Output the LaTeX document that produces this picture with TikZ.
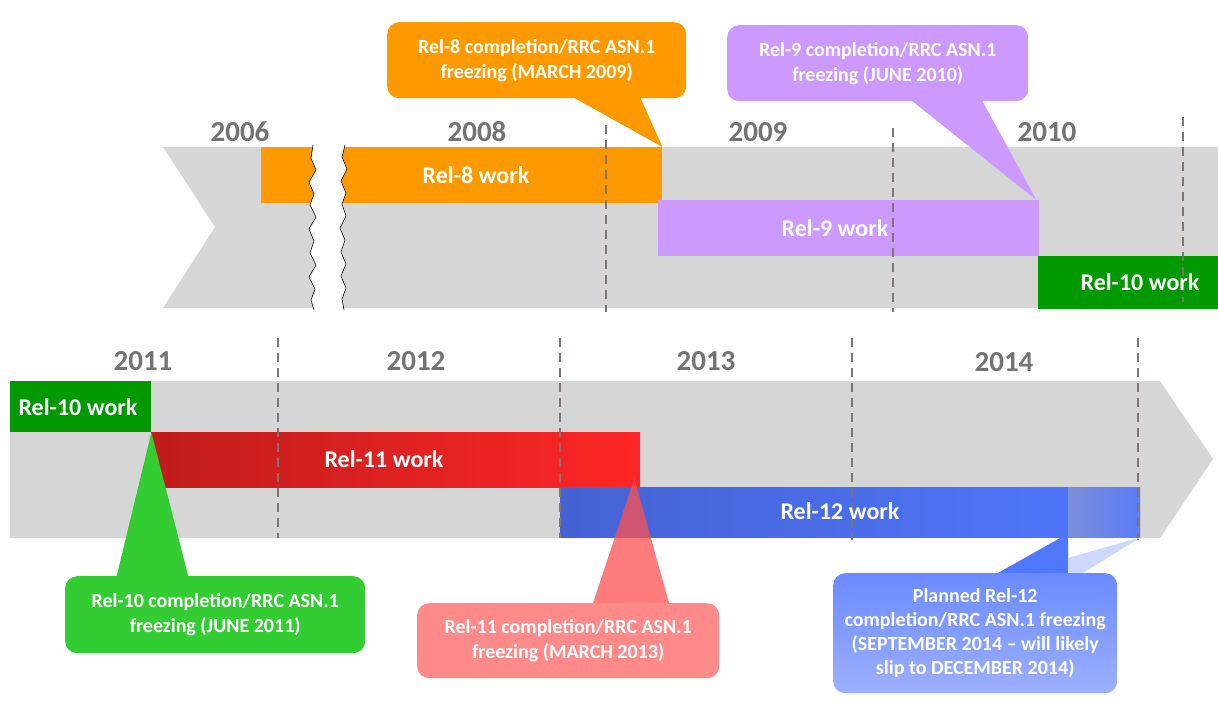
\documentclass[tikz,border=0pt]{standalone}
\usepackage{fontspec}
\setmainfont{Carlito}
\usetikzlibrary{calc}

\definecolor{band}{HTML}{D6D6D6}
\definecolor{yeargray}{HTML}{737373}
\definecolor{dashgray}{HTML}{7E7570}
\definecolor{orangeR}{HTML}{FF9900}
\definecolor{lilac}{HTML}{CC99FF}
\definecolor{greenR}{HTML}{009900}
\definecolor{greenC}{HTML}{33CC33}
\definecolor{redL}{HTML}{BF1C1C}
\definecolor{redR}{HTML}{FF2626}
\definecolor{blueL}{HTML}{4462D2}
\definecolor{blueR}{HTML}{5078FF}
\definecolor{blueSL}{HTML}{7A8ED8}
\definecolor{blueSR}{HTML}{5A7CF8}
\definecolor{redC}{HTML}{FF8A8A}
\definecolor{redP}{HTML}{FF5050}
\definecolor{blueCT}{HTML}{6A8AFF}
\definecolor{blueCB}{HTML}{9DB0FF}
\definecolor{bluePale}{HTML}{CDD8FF}

\tikzset{
  bar/.style={rectangle, inner sep=0pt, anchor=north west},
  barlabel/.style={text=white, font=\bfseries\fontsize{24}{24}\selectfont, inner sep=0pt},
  year/.style={text=yeargray, font=\bfseries\fontsize{29}{29}\selectfont, inner sep=0pt},
  callout/.style={rectangle, rounded corners=12pt, text=white, align=center,
    font=\bfseries\fontsize{20}{25}\selectfont, inner sep=0pt, anchor=north west},
  guide/.style={dashgray, line width=2pt, dash pattern=on 9pt off 6pt},
  tear/.style={black, line width=0.6pt, line join=miter}
}

\begin{document}
\begin{tikzpicture}[x=1pt, y=-1pt]
\useasboundingbox (0,0) rectangle (1218,716);

% timeline bands
\fill[band] (163,147) -- (1218,147) -- (1218,308) -- (163,308) -- (215,227) -- cycle;
\fill[band] (10,381) -- (1160,381) -- (1213,459) -- (1160,538) -- (10,538) -- cycle;

% release work bars, 2006-2010
\node[bar, fill=orangeR, minimum width=401pt, minimum height=56pt] (r8) at (261,147) {};
\node[bar, fill=lilac, minimum width=381pt, minimum height=56pt] (r9) at (658,200) {};
\node[bar, fill=greenR, minimum width=180pt, minimum height=53pt] (r10a) at (1038,256) {};

% release work bars, 2011-2014
\node[bar, fill=greenR, minimum width=141pt, minimum height=51pt] (r10b) at (10,381) {};
\node[bar, left color=redL, right color=redR, minimum width=489pt, minimum height=55pt] (r11) at (151,432) {};
\node[bar, left color=blueL, right color=blueR, minimum width=580pt, minimum height=50pt] (r12) at (560,487) {};
\node[bar, left color=blueSL, right color=blueSR, minimum width=72pt, minimum height=50pt] (r12s) at (1068,487) {};

% year separators
\draw[guide] (606,125) -- (606,312);
\draw[guide] (893,128) -- (893,312);
\draw[guide] (1183,117) -- (1183,302);
\draw[guide] (278,338) -- (278,538);
\draw[guide] (560,338) -- (560,538);
\draw[guide] (852,338) -- (852,540);
\draw[guide] (1138,338) -- (1138,540);

% torn gap between 2006 and 2008
\fill[white] (313,145) -- (311,158) -- (316,170) -- (309,182) -- (314,194) -- (310,205) -- (316,217)
  -- (309,229) -- (314,241) -- (310,253) -- (316,265) -- (309,277) -- (315,289) -- (311,300) -- (314,310)
  -- (344,310) -- (342,299) -- (346,288) -- (341,276) -- (346,264) -- (341,252) -- (345,240) -- (340,228)
  -- (346,216) -- (342,204) -- (346,193) -- (341,181) -- (347,169) -- (342,157) -- (345,145) -- cycle;
\draw[tear] (313,145) -- (311,158) -- (316,170) -- (309,182) -- (314,194) -- (310,205) -- (316,217)
  -- (309,229) -- (314,241) -- (310,253) -- (316,265) -- (309,277) -- (315,289) -- (311,300) -- (314,310);
\draw[tear] (345,145) -- (342,157) -- (347,169) -- (341,181) -- (346,193) -- (342,204) -- (346,216)
  -- (340,228) -- (345,240) -- (341,252) -- (346,264) -- (341,276) -- (346,288) -- (342,299) -- (344,310);

% bar labels
\node[barlabel] (l8) at (476,175) {Rel-8 work};
\node[barlabel] (l9) at (835,228) {Rel-9 work};
\node[barlabel] (l10a) at (1140,282) {Rel-10 work};
\node[barlabel] (l10b) at (78,407) {Rel-10 work};
\node[barlabel] (l11) at (384,459) {Rel-11 work};
\node[barlabel] (l12) at (840,511) {Rel-12 work};

% years
\node[year] (y06) at (240,132) {2006};
\node[year] (y08) at (477,132) {2008};
\node[year] (y09) at (758,132) {2009};
\node[year] (y10) at (1047,132) {2010};
\node[year] (y11) at (143,361) {2011};
\node[year] (y12) at (416,361) {2012};
\node[year] (y13) at (706,361) {2013};
\node[year] (y14) at (1004,362) {2014};

% freeze callouts
\fill[orangeR] (560,90) -- (r8.north east) -- (637,90) -- cycle;
\node[callout, fill=orangeR, minimum width=299pt, minimum height=76pt] (c8) at (387,22)
  {Rel-8 completion/RRC ASN.1\\freezing (MARCH 2009)};

\fill[lilac] (902,93) -- ($(r9.north east)+(-3,0)$) -- (978,93) -- cycle;
\node[callout, fill=lilac, minimum width=301pt, minimum height=76pt] (c9) at (727,25)
  {Rel-9 completion/RRC ASN.1\\freezing (JUNE 2010)};

\fill[greenC] (115,583) -- (r10b.south east) -- (190,583) -- cycle;
\node[callout, fill=greenC, minimum width=300pt, minimum height=77pt] (c10) at (65,576)
  {Rel-10 completion/RRC ASN.1\\freezing (JUNE 2011)};

\fill[redP, fill opacity=0.75] (593,603) -- ($(r11.south east)+(-6,-9)$) -- (669,603) -- cycle;
\node[callout, fill=redC, minimum width=302pt, minimum height=75pt] (c11) at (417,603)
  {Rel-11 completion/RRC ASN.1\\freezing (MARCH 2013)};

\fill[blueR] (998,573) -- (1060,538) -- (r12s.south west) -- (1068,573) -- cycle;
\fill[bluePale] (1068,558) -- (r12s.south east) -- (1083,573) -- (1068,573) -- cycle;
\node[callout, top color=blueCT, bottom color=blueCB, minimum width=284pt, minimum height=120pt,
  font=\bfseries\fontsize{20}{24}\selectfont] (c12) at (833,573)
  {Planned Rel-12\\completion/RRC ASN.1 freezing\\(SEPTEMBER 2014 -- will likely\\slip to DECEMBER 2014)};

\end{tikzpicture}
\end{document}
